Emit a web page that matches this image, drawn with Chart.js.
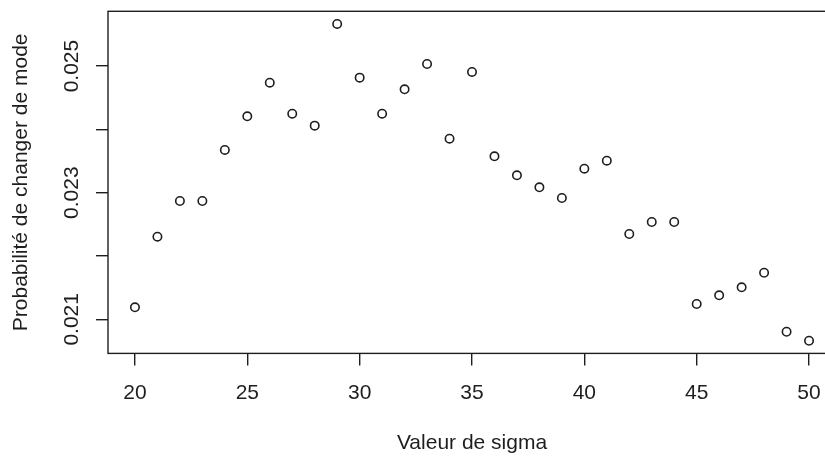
<!DOCTYPE html>
<html>
<head>
<meta charset="utf-8">
<style>
  html, body { margin: 0; padding: 0; overflow: hidden; background: #ffffff; }
  canvas { display: block; }
</style>
<script src="https://cdn.jsdelivr.net/npm/chart.js@4/dist/chart.umd.min.js"></script>
</head>
<body>
<canvas id="c" width="845" height="458"></canvas>
<script>
// Values of sigma and the measured probability of a mode change
const sigma = [20, 21, 22, 23, 24, 25, 26, 27, 28, 29, 30, 31, 32, 33, 34, 35,
               36, 37, 38, 39, 40, 41, 42, 43, 44, 45, 46, 47, 48, 49, 50];
const probability = [0.021190, 0.022305, 0.022869, 0.022869, 0.023675, 0.024207,
                     0.024738, 0.024248, 0.024059, 0.025665, 0.024817, 0.024248,
                     0.024633, 0.025033, 0.023853, 0.024907, 0.023575, 0.023275,
                     0.023085, 0.022916, 0.023379, 0.023506, 0.022348, 0.022537,
                     0.022537, 0.021242, 0.021379, 0.021506, 0.021736, 0.020804,
                     0.020662];

const xTicks = [20, 25, 30, 35, 40, 45, 50];
const xTickLabels = ['20', '25', '30', '35', '40', '45', '50'];
const yTicks = [0.021, 0.022, 0.023, 0.024, 0.025];
const yTickLabels = ['0.021', '', '0.023', '', '0.025'];

const xTitle = 'Valeur de sigma';
const yTitle = 'Probabilité de changer de mode';

// Axis ranges padded by 4% on each side, like base R plots
function paddedRange(values) {
  const lo = Math.min(...values), hi = Math.max(...values);
  const pad = (hi - lo) * 0.04;
  return [lo - pad, hi + pad];
}
const [xMin, xMax] = paddedRange(sigma);
const [yMin, yMax] = paddedRange(probability);

const INK = '#1e1e1e';
const FONT = '21px "Liberation Sans", Arial, sans-serif';

const points = sigma.map((s, i) => ({ x: s, y: probability[i] }));

// Box around the plotting region plus tick labels and axis titles
const framePlugin = {
  id: 'frame',
  afterDraw(chart) {
    const { ctx, chartArea: a, scales } = chart;
    ctx.save();
    ctx.strokeStyle = INK;
    ctx.lineWidth = 1.4;
    ctx.strokeRect(a.left, a.top, a.right - a.left, a.bottom - a.top);

    ctx.fillStyle = INK;
    ctx.font = FONT;

    // x tick labels
    ctx.textAlign = 'center';
    ctx.textBaseline = 'middle';
    xTicks.forEach((v, i) => {
      ctx.fillText(xTickLabels[i], scales.x.getPixelForValue(v), 393);
    });

    // y tick labels, written vertically
    yTicks.forEach((v, i) => {
      if (!yTickLabels[i]) return;
      ctx.save();
      ctx.translate(72, scales.y.getPixelForValue(v));
      ctx.rotate(-Math.PI / 2);
      ctx.fillText(yTickLabels[i], 0, 0);
      ctx.restore();
    });

    // axis titles
    ctx.fillText(xTitle, (a.left + a.right) / 2, 443);
    ctx.save();
    ctx.translate(21, (a.top + a.bottom) / 2);
    ctx.rotate(-Math.PI / 2);
    ctx.fillText(yTitle, 0, 0);
    ctx.restore();
    ctx.restore();
  }
};

new Chart(document.getElementById('c'), {
  type: 'scatter',
  data: {
    datasets: [{
      data: points,
      pointStyle: 'circle',
      pointRadius: 4.2,
      pointHoverRadius: 4.2,
      pointBorderWidth: 1.6,
      pointBorderColor: INK,
      pointBackgroundColor: 'rgba(0,0,0,0)'
    }]
  },
  options: {
    responsive: false,
    animation: false,
    devicePixelRatio: 1,
    layout: { padding: { top: 11.3, right: 9, left: 0, bottom: 0 } },
    plugins: { legend: { display: false }, tooltip: { enabled: false } },
    scales: {
      x: {
        type: 'linear',
        min: xMin,
        max: xMax,
        afterBuildTicks(scale) { scale.ticks = xTicks.map(v => ({ value: v })); },
        afterFit(scale) { scale.height = 104.6; },
        ticks: { display: false },
        border: { display: false },
        grid: { drawOnChartArea: false, drawTicks: true, tickLength: 12, color: INK, lineWidth: 1.4 }
      },
      y: {
        type: 'linear',
        min: yMin,
        max: yMax,
        afterBuildTicks(scale) { scale.ticks = yTicks.map(v => ({ value: v })); },
        afterFit(scale) { scale.width = 108; },
        ticks: { display: false },
        border: { display: false },
        grid: { drawOnChartArea: false, drawTicks: true, tickLength: 12, color: INK, lineWidth: 1.4 }
      }
    }
  },
  plugins: [framePlugin]
});
</script>
</body>
</html>
